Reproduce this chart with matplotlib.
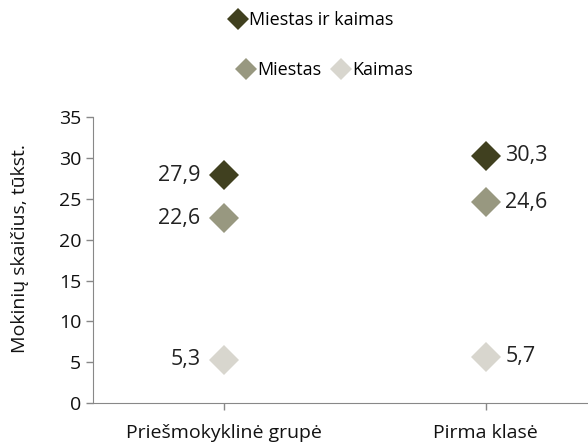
import matplotlib
matplotlib.use("Agg")
import matplotlib.pyplot as plt
from matplotlib.lines import Line2D

plt.rcParams['font.family'] = ['Open Sans', 'DejaVu Sans']

# duomenys
kategorijos = ['Priešmokyklinė grupė', 'Pirma klasė']
miestas_ir_kaimas = [27.9, 30.3]
miestas = [22.6, 24.6]
kaimas = [5.3, 5.7]
serijos = ['Miestas ir kaimas', 'Miestas', 'Kaimas']
spalvos = ['#40401f', '#989880', '#d8d6ce']
y_ticks = [0, 5, 10, 15, 20, 25, 30, 35]

fig = plt.figure(figsize=(5.88, 4.42), dpi=100)
ax = fig.add_axes([0.158, 0.088, 0.842, 0.647])

x = list(range(len(kategorijos)))
for vals, col in zip([kaimas, miestas, miestas_ir_kaimas], spalvos[::-1]):
    ax.plot(x, vals, linestyle='none', marker='D', markersize=15,
            color=col, markeredgewidth=0)
    # reikšmių etiketės: kairėje pirmai kategorijai, dešinėje antrai
    ax.text(x[0] - 0.09, vals[0], f'{vals[0]:.1f}'.replace('.', ','),
            ha='right', va='center', fontsize=15.5, color='#222222')
    ax.text(x[1] + 0.075, vals[1], f'{vals[1]:.1f}'.replace('.', ','),
            ha='left', va='center', fontsize=15.5, color='#222222')

ax.set_xlim(-0.5, 1.39)
ax.set_ylim(0, 35)
ax.set_yticks(y_ticks)
ax.set_xticks(x)
ax.set_xticklabels(kategorijos)
ax.tick_params(axis='both', labelsize=14, colors='#888888', labelcolor='#111111',
               length=5, width=1)
ax.tick_params(axis='x', pad=10)
for s in ['top', 'right']:
    ax.spines[s].set_visible(False)
for s in ['left', 'bottom']:
    ax.spines[s].set_color('#888888')
ax.set_ylabel('Mokinių skaičius, tūkst.', fontsize=14, color='#111111', labelpad=10)
ax.yaxis.set_label_coords(-0.13, 0.54)

def rankenele(c):
    return Line2D([], [], linestyle='none', marker='D', markersize=11,
                  color=c, markeredgewidth=0)

leg1 = fig.legend([rankenele(spalvos[0])], [serijos[0]], loc='center',
                  bbox_to_anchor=(0.529, 0.955), frameon=False, fontsize=13,
                  handletextpad=0.1, handlelength=1.0)
leg2 = fig.legend([rankenele(spalvos[1]), rankenele(spalvos[2])], serijos[1:],
                  loc='center', ncol=2, bbox_to_anchor=(0.553, 0.842),
                  frameon=False, fontsize=13, handletextpad=0.1,
                  handlelength=1.0, columnspacing=0.6)

fig.savefig('out.png', dpi=100)
